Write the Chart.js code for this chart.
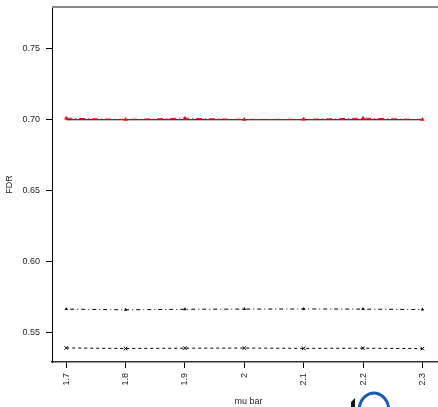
<!DOCTYPE html>
<html>
<head>
<meta charset="utf-8">
<script src="https://cdn.jsdelivr.net/npm/chart.js@4/dist/chart.umd.min.js"></script>
<style>
  html, body { margin: 0; padding: 0; background: #fff; overflow: hidden; }
  #wrap { width: 450px; height: 407px; }
</style>
</head>
<body>
<div id="wrap"><canvas id="fdrChart" width="450" height="407"></canvas></div>
<script>
// data
const muBar = [1.7, 1.8, 1.9, 2.0, 2.1, 2.2, 2.3];
const fdrTarget = [0.6997, 0.6997, 0.6997, 0.6997, 0.6997, 0.6997, 0.6997];
const fdrRed = [0.7008, 0.6999, 0.7008, 0.6999, 0.7000, 0.7008, 0.6999];
const fdrDashDot = [0.5665, 0.5660, 0.5664, 0.5665, 0.5666, 0.5665, 0.5662];
const fdrDashed = [0.5392, 0.5388, 0.5390, 0.5391, 0.5389, 0.5390, 0.5387];
const xTicks = [1.7, 1.8, 1.9, 2.0, 2.1, 2.2, 2.3];
const yTicks = [0.55, 0.60, 0.65, 0.70, 0.75];

const pts = ys => muBar.map((x, i) => ({ x: x, y: ys[i] }));
const font = { family: '"Liberation Sans", Arial, sans-serif', size: 9 };

// box top edge plus the small blue mark at the bottom
const extras = {
  id: 'extras',
  afterDraw(chart) {
    const { ctx, chartArea } = chart;
    ctx.save();
    ctx.strokeStyle = '#888';
    ctx.lineWidth = 2;
    ctx.beginPath();
    ctx.moveTo(chartArea.left, chartArea.top);
    ctx.lineTo(chartArea.right, chartArea.top);
    ctx.stroke();

    ctx.strokeStyle = '#1a5bb5';
    ctx.lineWidth = 3;
    ctx.beginPath();
    ctx.ellipse(374, 411, 15, 18, 0, Math.PI * 1.05, Math.PI * 1.95);
    ctx.stroke();
    ctx.fillStyle = '#111';
    ctx.beginPath();
    ctx.moveTo(351, 402);
    ctx.lineTo(355, 398);
    ctx.lineTo(355, 407);
    ctx.lineTo(351, 407);
    ctx.closePath();
    ctx.fill();
    ctx.restore();
  }
};

new Chart(document.getElementById('fdrChart'), {
  type: 'line',
  data: {
    datasets: [
      {
        data: pts(fdrRed),
        borderColor: '#ff0000',
        backgroundColor: '#ff0000',
        borderWidth: 1,
        borderDash: [6, 3, 1, 3],
        pointStyle: 'triangle',
        pointRadius: 2.5,
        pointBorderWidth: 0
      },
      {
        data: pts(fdrTarget),
        borderColor: '#000',
        borderWidth: 1.2,
        pointRadius: 0
      },
      {
        data: pts(fdrDashDot),
        borderColor: '#000',
        backgroundColor: '#000',
        borderWidth: 1,
        borderDash: [1, 3, 4, 3],
        pointStyle: 'triangle',
        pointRadius: 2,
        pointBorderWidth: 0
      },
      {
        data: pts(fdrDashed),
        borderColor: '#000',
        backgroundColor: '#000',
        borderWidth: 1,
        borderDash: [3, 3],
        pointStyle: 'crossRot',
        pointRadius: 2.5,
        pointBorderWidth: 1
      }
    ]
  },
  options: {
    responsive: false,
    animation: false,
    layout: { padding: { top: 7, right: 0, left: 0, bottom: 0 } },
    plugins: { legend: { display: false }, tooltip: { enabled: false } },
    scales: {
      x: {
        type: 'linear',
        min: 1.676,
        max: 2.338,
        afterBuildTicks: s => { s.ticks = xTicks.map(v => ({ value: v })); },
        afterFit: s => { s.height = 45; s.paddingLeft = 0; s.paddingRight = 0; },
        grid: { drawOnChartArea: false, drawTicks: true, tickLength: 6, color: '#000' },
        border: { display: true, color: '#333', width: 1.5 },
        ticks: {
          font: font, color: '#222', padding: 5,
          minRotation: 90, maxRotation: 90, autoSkip: false,
          callback: v => String(Number(v.toFixed(1)))
        },
        title: { display: true, text: 'mu bar', font: font, color: '#222', padding: { top: 0, bottom: 0 } }
      },
      y: {
        min: 0.5293,
        max: 0.779,
        afterBuildTicks: s => { s.ticks = yTicks.map(v => ({ value: v })); },
        afterFit: s => { s.width = 52; s.paddingTop = 0; s.paddingBottom = 0; },
        grid: { drawOnChartArea: false, drawTicks: true, tickLength: 6, color: '#000' },
        border: { display: true, color: '#000', width: 1 },
        ticks: { font: font, color: '#222', padding: 6, callback: v => v.toFixed(2) },
        title: { display: true, text: 'FDR', font: font, color: '#222', padding: { top: 4, bottom: 0 } }
      }
    }
  },
  plugins: [extras]
});
</script>
</body>
</html>
